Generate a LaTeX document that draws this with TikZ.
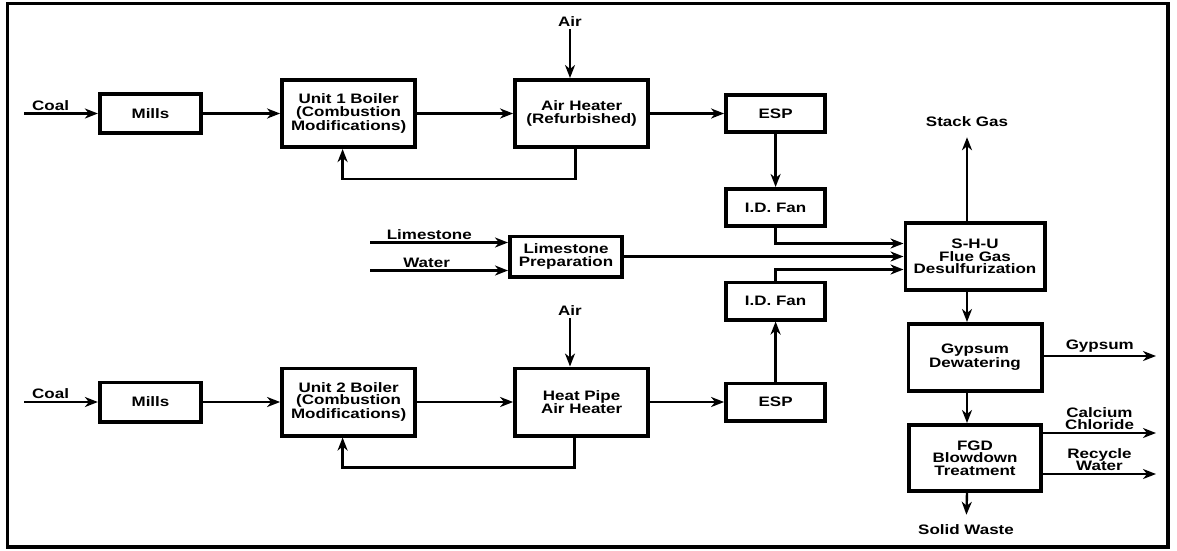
\documentclass[tikz,border=0pt]{standalone}
\usepackage{fontspec}
\setmainfont{Liberation Sans}[FakeStretch=1.24]
\usetikzlibrary{arrows.meta,positioning}
\tikzset{
  unit/.style={draw,line width=3.8pt,align=center,inner sep=2pt,
               font=\fontsize{13.7}{12.5}\selectfont\bfseries,
               minimum width=101.4pt,minimum height=39.2pt},
  bigunit/.style={unit,minimum width=133.2pt,minimum height=67.2pt},
  fl/.style={-{Stealth[length=13pt,width=10pt,inset=4pt]},line width=2.4pt},
  tag/.style={font=\fontsize{13.7}{12.5}\selectfont\bfseries,align=center,inner sep=2pt}
}

\begin{document}
\begin{tikzpicture}[x=1pt,y=-1pt,node distance=77pt]
  \useasboundingbox (0,0) rectangle (1177,550);
  \draw[line width=3.2pt] (7.5,3.5) rectangle (1168,547);
  % unit 1 train
  \node[unit] (mills1) at (150.5,113.5) {Mills};
  \node[bigunit,right=of mills1] (boil1) {Unit 1 Boiler\\(Combustion\\Modifications)};
  \node[bigunit,right=96pt of boil1] (ah1) {Air Heater\\(Refurbished)};
  \node[unit,minimum width=99.2pt,minimum height=37.2pt,right=74pt of ah1] (esp1) {ESP};
  \node[unit,minimum width=99.2pt,minimum height=37.2pt,below=53pt of esp1] (fan1) {I.D. Fan};
  % unit 2 train
  \node[unit] (mills2) at (150.5,402) {Mills};
  \node[bigunit,right=of mills2] (boil2) {Unit 2 Boiler\\(Combustion\\Modifications)};
  \node[bigunit,right=96pt of boil2] (hpah) {Heat Pipe\\Air Heater};
  \node[unit,minimum width=99.2pt,minimum height=37.2pt,right=74pt of hpah] (esp2) {ESP};
  \node[unit,minimum width=99.2pt,minimum height=37.2pt,above=60pt of esp2] (fan2) {I.D. Fan};
  % scrubber and by-products
  \node[unit,minimum width=112.2pt,minimum height=40.2pt] (lime) at (566,256.5) {Limestone\\Preparation};
  \node[bigunit,minimum width=139.2pt] (shu) at (975,256.5) {S-H-U\\Flue Gas\\Desulfurization};
  \node[bigunit,below=30pt of shu] (gyp) {Gypsum\\Dewatering};
  \node[bigunit,minimum width=132.2pt,minimum height=66.2pt,below=30pt of gyp] (fgd) {FGD\\Blowdown\\Treatment};
  % free ends
  \node[tag] (air1) at (570,22) {Air};
  \node[tag] (air2) at (570,311) {Air};
  \node[tag,inner ysep=10pt] (stack) at (967,122) {Stack Gas};
  \node[tag,inner ysep=10pt] (solid) at (966,530) {Solid Waste};
  \coordinate (coal1) at (24,113.5);
  \coordinate (coal2) at (24,402);
  \coordinate (limein) at (370,242.5);
  \coordinate (waterin) at (370,270.5);
  \coordinate (gypout) at (1156,356);
  \coordinate (caclout) at (1156,433);
  \coordinate (waterout) at (1156,474);

  \draw[fl] (coal1) -- (mills1.west) node[tag,pos=0.36,above] {Coal};
  \draw[fl] (mills1) -- (boil1); \draw[fl] (boil1) -- (ah1); \draw[fl] (ah1) -- (esp1);
  \draw[fl] (air1) -- (air1 |- ah1.north);
  \draw[fl] ([xshift=-6pt]ah1.south) -- ++(0,30) -| ([xshift=-6pt]boil1.south);
  \draw[fl] (esp1) -- (fan1);
  \draw[fl] (fan1.south) |- ([yshift=13pt]shu.west);

  \draw[fl] (coal2) -- (mills2.west) node[tag,pos=0.36,above] {Coal};
  \draw[fl] (mills2) -- (boil2); \draw[fl] (boil2) -- (hpah); \draw[fl] (hpah) -- (esp2);
  \draw[fl] (air2) -- (air2 |- hpah.north);
  \draw[fl] ([xshift=-7pt]hpah.south) -- ++(0,30) -| ([xshift=-6pt]boil2.south);
  \draw[fl] (esp2) -- (fan2);
  \draw[fl] (fan2.north) |- ([yshift=-13pt]shu.west);

  \draw[fl] (limein) -- (limein -| lime.west) node[tag,pos=0.43,above] {Limestone};
  \draw[fl] (waterin) -- (waterin -| lime.west) node[tag,pos=0.41,above] {Water};
  \draw[fl] (lime.east) -- (lime.east -| shu.west);

  \draw[fl] ([xshift=-8pt]shu.north) -- (stack);
  \draw[fl] ([xshift=-8pt]shu.south) -- ([xshift=-8pt]gyp.north);
  \draw[fl] ([xshift=-8pt]gyp.south) -- ([xshift=-8pt]fgd.north);
  \draw[fl] ([xshift=-8pt]fgd.south) -- (solid);
  \draw[fl] (gypout -| gyp.east) -- (gypout) node[tag,midway,above] {Gypsum};
  \draw[fl] (caclout -| fgd.east) -- (caclout) node[tag,midway,above] {Calcium\\Chloride};
  \draw[fl] (waterout -| fgd.east) -- (waterout) node[tag,midway,above] {Recycle\\Water};
\end{tikzpicture}
\end{document}
